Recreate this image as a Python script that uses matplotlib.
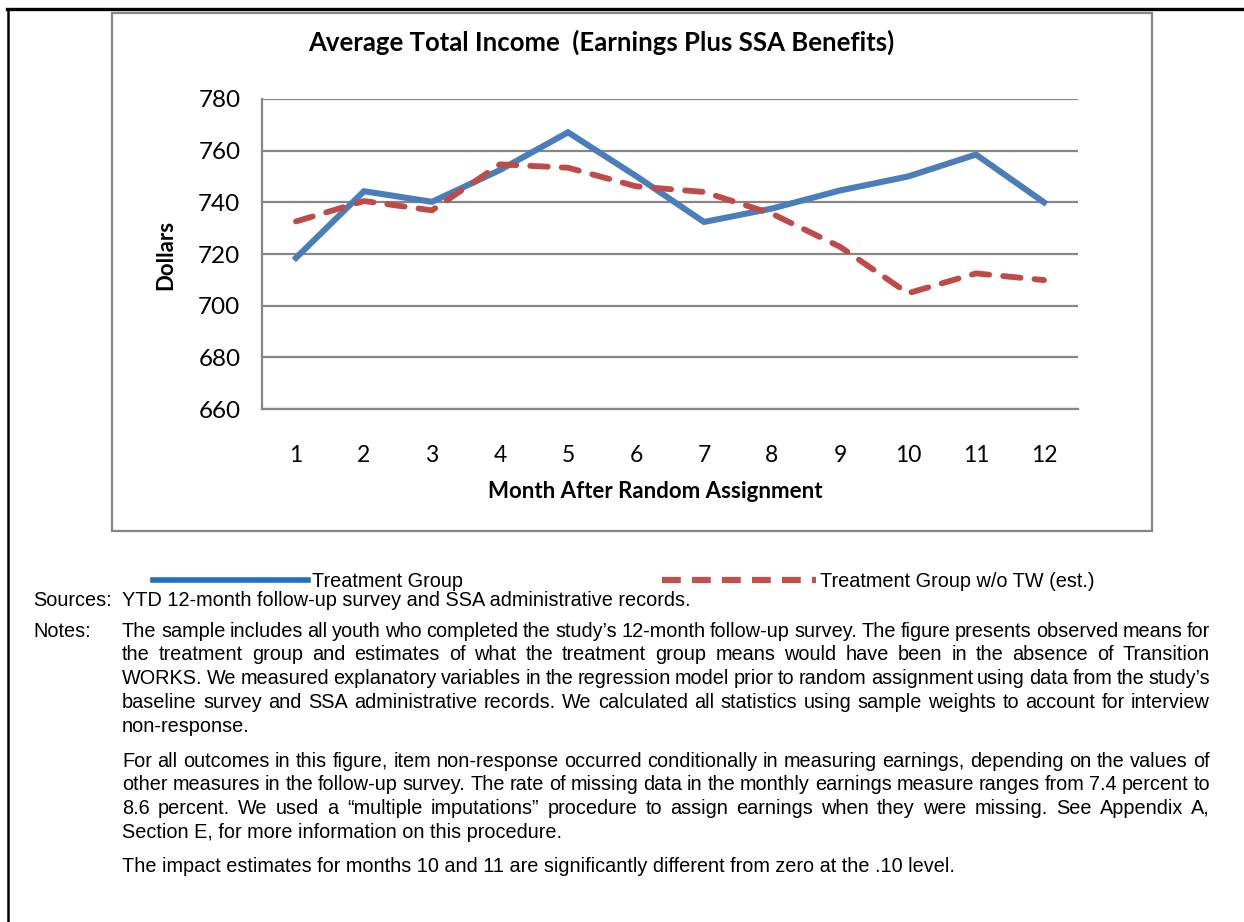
import matplotlib
matplotlib.use("Agg")
import matplotlib.pyplot as plt
from matplotlib.lines import Line2D
from matplotlib.patches import Rectangle
from matplotlib.font_manager import FontProperties

# dados
meses = [1, 2, 3, 4, 5, 6, 7, 8, 9, 10, 11, 12]
tratamento = [718.5, 744.3, 740.2, 752.5, 767.1, 750.2, 732.4, 737.6, 744.6, 750.0, 758.5, 740.0]
sem_tw = [732.6, 740.5, 736.9, 754.7, 753.4, 746.2, 744.0, 735.6, 722.8, 704.8, 712.5, 709.9]
y_ticks = [660, 680, 700, 720, 740, 760, 780]

titulo = "Average Total Income  (Earnings Plus SSA Benefits)"
x_label = "Month After Random Assignment"
y_label = "Dollars"
legenda = ["Treatment Group", "Treatment Group w/o TW (est.)"]

fontes = "Sources:"
fontes_txt = "YTD 12-month follow-up survey and SSA administrative records."
notas = "Notes:"
par1 = [
    "The sample includes all youth who completed the study\u2019s 12-month follow-up survey. The figure presents observed means for",
    "the treatment group and estimates of what the treatment group means would have been in the absence of Transition",
    "WORKS. We measured explanatory variables in the regression model prior to random assignment using data from the study\u2019s",
    "baseline survey and SSA administrative records. We calculated all statistics using sample weights to account for interview",
    "non-response.",
]
par2 = [
    "For all outcomes in this figure, item non-response occurred conditionally in measuring earnings, depending on the values of",
    "other measures in the follow-up survey. The rate of missing data in the monthly earnings measure ranges from 7.4 percent to",
    "8.6 percent. We used a \u201cmultiple imputations\u201d procedure to assign earnings when they were missing. See Appendix A,",
    "Section E, for more information on this procedure.",
]
par3 = ["The impact estimates for months 10 and 11 are significantly different from zero at the .10 level."]

W, H = 1244, 922
fig = plt.figure(figsize=(W / 100, H / 100), dpi=100)

def fx(px):
    return px / W

def fy(py):
    return 1 - py / H

cinza = "#868686"
chart_font = ["Lato", "DejaVu Sans"]

# moldura preta exterior
fig.add_artist(Line2D([fx(7), 1], [fy(9), fy(9)], color="black", lw=2.4))
fig.add_artist(Line2D([fx(8), fx(8)], [fy(9), 0], color="black", lw=1.8))

# caixa do gráfico
fig.add_artist(Rectangle((fx(112), fy(531)), fx(1152) - fx(112), fy(13) - fy(531),
                         fill=False, edgecolor=cinza, lw=1.6))

ax = fig.add_axes([fx(262), fy(409), fx(1078) - fx(262), fy(99) - fy(409)])
ax.plot(meses, tratamento, color="#4A7EBB", lw=4.4, solid_joinstyle="miter", zorder=3)
ax.plot(meses, sem_tw, color="#BE4B48", lw=4.2, linestyle=(0, (3.0, 2.4)),
        dash_capstyle="round", solid_joinstyle="round", zorder=3)

ax.set_xlim(0.5, 12.5)
ax.set_ylim(660, 780)
ax.set_yticks(y_ticks)
ax.set_xticks(meses)
ax.set_xticklabels([str(m) for m in meses], fontfamily=chart_font, fontsize=16.5)
ax.set_yticklabels([str(v) for v in y_ticks], fontfamily=chart_font, fontsize=17.5)
ax.tick_params(axis="both", length=0)
ax.tick_params(axis="x", pad=26)
ax.tick_params(axis="y", pad=15.5)
ax.grid(axis="y", color=cinza, lw=1.6)
ax.set_axisbelow(True)
for s in ["top", "right"]:
    ax.spines[s].set_visible(False)
for s in ["left", "bottom"]:
    ax.spines[s].set_color(cinza)
    ax.spines[s].set_linewidth(1.6)

fig.text(fx(601), fy(42), titulo, ha="center", va="center", fontfamily=chart_font,
         fontweight="bold", fontsize=18.5)
fig.text(fx(655), fy(492), x_label, ha="center", va="center", fontfamily=chart_font,
         fontweight="bold", fontsize=16)
fig.text(fx(166), fy(255), y_label, ha="center", va="center", rotation=90,
         fontfamily=chart_font, fontweight="bold", fontsize=16)

# legenda
handles = [Line2D([], [], color="#1F70C1", lw=4.0),
           Line2D([], [], color="#C0504D", lw=4.5, linestyle=(0, (3.0, 1.8)))]
fs_txt = 14.3
fig.legend(handles, legenda, loc="center left", bbox_to_anchor=(fx(153), fy(581)),
           ncol=2, frameon=False, borderpad=0, borderaxespad=0,
           handlelength=7.8, handletextpad=0.2, columnspacing=10.0,
           prop={"family": "Liberation Sans", "size": fs_txt})

# notas com texto justificado
fp = FontProperties(family="Liberation Sans", size=fs_txt)
renderer = fig.canvas.get_renderer()
x0, x1 = 122, 1210

def linha(texto, y, justificar):
    if not justificar:
        fig.text(fx(x0), fy(y), texto, fontproperties=fp, va="center")
        return
    palavras = texto.split(" ")
    larg = [renderer.get_text_width_height_descent(p, fp, ismath=False)[0] for p in palavras]
    espaco = (x1 - x0 - sum(larg)) / (len(palavras) - 1)
    x = x0
    for p, w in zip(palavras, larg):
        fig.text(fx(x), fy(y), p, fontproperties=fp, va="center")
        x += w + espaco

fig.text(fx(33), fy(601), fontes, fontproperties=fp, va="center")
linha(fontes_txt, 601, False)
fig.text(fx(33), fy(631), notas, fontproperties=fp, va="center")

y = 631
for i, t in enumerate(par1):
    linha(t, y, i < len(par1) - 1)
    y += 23.8
y = 761
for i, t in enumerate(par2):
    linha(t, y, i < len(par2) - 1)
    y += 23.7
linha(par3[0], 867, False)

fig.savefig("out.png", dpi=100)
